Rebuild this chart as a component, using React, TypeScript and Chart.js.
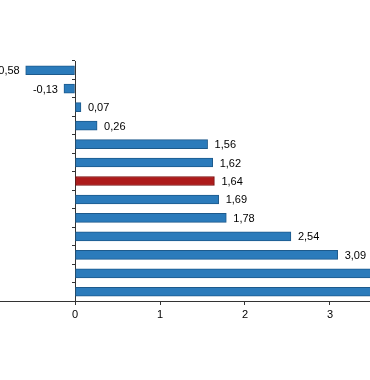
import React, { useEffect, useRef } from "react";
import { Chart, registerables } from "chart.js";

Chart.register(...registerables);

const categories = ["A", "B", "C", "D", "E", "F", "G", "H", "I", "J", "K", "L", "M"];
const values = [-0.58, -0.13, 0.07, 0.26, 1.56, 1.62, 1.64, 1.69, 1.78, 2.54, 3.09, 3.6, 4.0];
const highlightIndex = 6;
const xTicks = [0, 1, 2, 3];

const BLUE = "#2b7bbb";
const BLUE_BORDER = "#1d5a8c";
const RED = "#ad1b1b";
const RED_BORDER = "#7a1010";

const fmt = (v: number) => v.toFixed(2).replace(".", ",");

const labelPlugin = {
  id: "valueLabels",
  afterDatasetsDraw(chart: any) {
    const ctx = chart.ctx;
    const meta = chart.getDatasetMeta(0);
    ctx.save();
    ctx.font = "11px 'Liberation Sans', Arial, sans-serif";
    ctx.fillStyle = "#000";
    ctx.textBaseline = "middle";
    meta.data.forEach((bar: any, i: number) => {
      const v = values[i];
      const p = bar.getProps(["x", "y", "base"], true);
      if (v >= 0) {
        ctx.textAlign = "left";
        ctx.fillText(fmt(v), p.x + 7, p.y + 1);
      } else {
        ctx.textAlign = "right";
        ctx.fillText(fmt(v), p.x - 6, p.y + 1);
      }
    });
    ctx.restore();
  },
};

export default function App() {
  const ref = useRef<HTMLCanvasElement>(null);
  useEffect(() => {
    if (!ref.current) return;
    const chart = new Chart(ref.current, {
      type: "bar",
      data: {
        labels: categories,
        datasets: [
          {
            data: values,
            backgroundColor: values.map((_, i) => (i === highlightIndex ? RED : BLUE)),
            borderColor: values.map((_, i) => (i === highlightIndex ? RED_BORDER : BLUE_BORDER)),
            borderWidth: 1,
            borderSkipped: false,
            barThickness: 9,
          },
        ],
      },
      options: {
        indexAxis: "y",
        animation: false,
        responsive: false,
        maintainAspectRatio: false,
        layout: { padding: { top: 61, left: 0, right: 0, bottom: 0 } },
        plugins: { legend: { display: false }, tooltip: { enabled: false } },
        scales: {
          x: {
            type: "linear",
            min: -75 / 85,
            max: 295 / 85,
            afterBuildTicks: (scale: any) => {
              scale.ticks = xTicks.map((v) => ({ value: v }));
            },
            afterFit: (scale: any) => {
              scale.height = 79;
            },
            border: { display: true, color: "#333", width: 1 },
            grid: { drawOnChartArea: false, drawTicks: true, tickLength: 4, color: "#333" },
            ticks: {
              color: "#000",
              padding: 3,
              font: { family: "'Liberation Sans', Arial, sans-serif", size: 11 },
              callback: (v: any) => String(v),
            },
          },
          y: {
            type: "category",
            position: { x: 0 } as any,
            border: { display: true, color: "#333", width: 1 },
            grid: { drawOnChartArea: false, drawTicks: true, tickLength: 3, color: "#333", offset: true },
            ticks: { display: false },
          },
        },
      },
      plugins: [labelPlugin],
    });
    return () => chart.destroy();
  }, []);
  return (
    <div style={{ position: "absolute", left: 0, top: 0, width: 370, height: 380 }}>
      <canvas ref={ref} width={370} height={380} style={{ display: "block" }} />
    </div>
  );
}
